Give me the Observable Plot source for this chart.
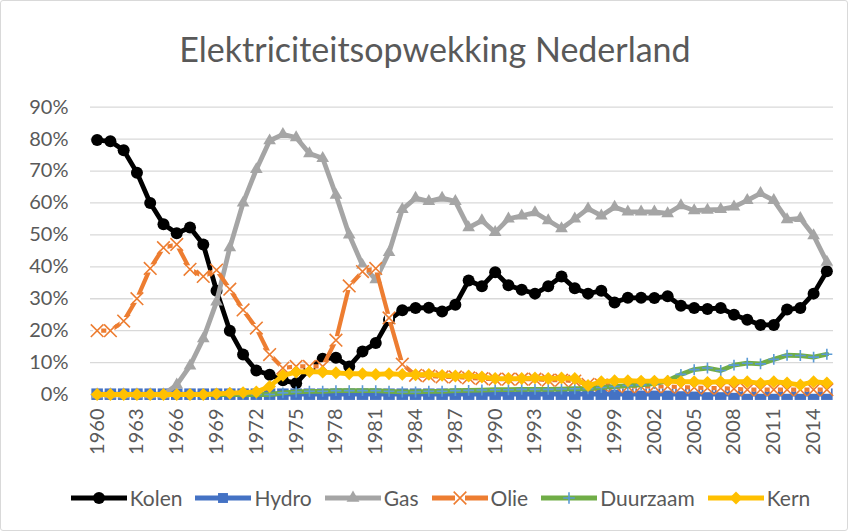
<!DOCTYPE html>
<html><head><meta charset="utf-8">
<script src="https://cdn.jsdelivr.net/npm/d3@7"></script>
<script src="https://cdn.jsdelivr.net/npm/@observablehq/plot@0.6"></script>
<style>
body{margin:0;background:#fff;}
#wrap{position:relative;width:849px;height:532px;overflow:hidden;font-family:Lato,"Open Sans",sans-serif;background:#fff;}
#frame{position:absolute;left:0;top:0;width:846px;height:529px;border:1px solid #d9d9d9;border-radius:3px;pointer-events:none;}
#title{position:absolute;left:0;width:870px;top:29px;text-align:center;font-size:34px;line-height:40px;color:#595959;}
#chart{position:absolute;left:0;top:0;}
#legend{position:absolute;left:0;top:485px;width:849px;padding-left:32px;box-sizing:border-box;display:flex;justify-content:center;align-items:center;gap:13px;font-size:21px;color:#595959;}
.item{display:flex;align-items:center;gap:3px;}
</style></head>
<body><div id="wrap"><div id="title">Elektriciteitsopwekking Nederland</div><div id="chart"></div><div id="legend"></div><div id="frame"></div></div>
<script>
const years = [1960,1961,1962,1963,1964,1965,1966,1967,1968,1969,1970,1971,1972,1973,1974,1975,1976,1977,1978,1979,1980,1981,1982,1983,1984,1985,1986,1987,1988,1989,1990,1991,1992,1993,1994,1995,1996,1997,1998,1999,2000,2001,2002,2003,2004,2005,2006,2007,2008,2009,2010,2011,2012,2013,2014,2015];
const tickYears = [1960,1963,1966,1969,1972,1975,1978,1981,1984,1987,1990,1993,1996,1999,2002,2005,2008,2011,2014];
const yTicks = [0,0.1,0.2,0.3,0.4,0.5,0.6,0.7,0.8,0.9];

// values in percent
const kolen = [79.7,79.3,76.5,69.5,60,53.3,50.5,52.3,47,32.5,20,12.5,7.5,6.2,4.5,3.5,8,11.2,11.5,8.8,13.5,16.1,23.4,26.4,27.1,27.2,26,28.1,35.7,33.9,38.3,34.2,32.8,31.6,33.9,37,33.3,31.6,32.5,28.8,30.3,30.3,30.2,30.8,27.8,27.1,26.8,27.1,25,23.4,21.8,21.8,26.6,27.1,31.6,38.6];
const hydro = [0.1,0.1,0.1,0.1,0.1,0.1,0.1,0.1,0.1,0.1,0.1,0.1,0.1,0.1,0.1,0.1,0.1,0.1,0.1,0.1,0.1,0.1,0.1,0.1,0.1,0.1,0.1,0.1,0.1,0.1,0.1,0.1,0.1,0.1,0.1,0.1,0.1,0.1,0.1,0.1,0.1,0.1,0.1,0.1,0.1,0.1,0.1,0.1,0.1,0.1,0.1,0.1,0.1,0.1,0.1,0.1];
const gas = [0,0,0,0,0,0,3,9,17.5,29,46,60,70.5,79.5,81.5,80.5,75.5,74,62.5,50,40.5,36,44.5,58,61.5,60.5,61.5,60.5,52.3,54.5,50.8,55,56,57,54.5,52,55,58.2,56,58.7,57.2,57.2,57.2,56.7,59.2,57.6,57.8,58,58.8,60.8,63,60.8,54.8,55.2,49.8,41.5];
const olie = [20,20,23,30,39.5,46,47,39.2,37,39,33,26.5,20.8,12.5,8.3,8.8,8.8,8.8,17,34,38.5,39.5,24,9.5,6,5.8,5.5,5.5,5.2,5,4.8,4.8,4.8,4.8,4.5,4.5,4.2,3.2,3,2.8,2.5,2.5,2.5,2.5,2.3,2.2,2,2,1.8,1.5,1.5,1.5,1.5,1.5,1.5,1.5];
const duurzaam = [0,0,0,0,0,0,0,0,0,0,0,0,0,0,0.5,0.8,1,1,1.2,1.2,1.2,1.2,1,0.8,0.8,1,1,1.2,1.3,1.4,1.5,1.5,1.6,1.6,1.6,1.7,1.8,1.8,2.2,2.5,2.8,3,3.4,4.3,6.3,7.8,8.3,7.5,9.2,9.8,9.6,11,12.3,12.2,11.7,12.6];
const kern = [0,0,0,0,0,0,0,0,0,0.2,0.4,0.6,0.8,2.5,6,7,7.2,7,6.8,6.5,6.5,6.3,6.5,6.3,6.2,6.3,6,5.8,5.8,5.5,5,5,5,5.2,5,5.2,5,2.8,4,4.3,4.3,4.2,4.2,4.2,4,4,3.8,4,4,4,3.5,4,3.6,3,4,3.6];

const seriesNames = ["Kolen","Hydro","Gas","Olie","Duurzaam","Kern"];
const seriesValues = [kolen,hydro,gas,olie,duurzaam,kern];
const colors = {Kolen:"#000000",Hydro:"#4472c4",Gas:"#a5a5a5",Olie:"#ed7d31",Duurzaam:"#70ad47",Kern:"#ffc000"};

const tables = {};
seriesNames.forEach((name,k)=>{
  tables[name] = years.map((yr,i)=>({year:yr, value:seriesValues[k][i]/100, series:name}));
});

const lw = 4.8;
const marks = [
  Plot.ruleY(yTicks, {stroke:"#d9d9d9", strokeWidth:1.3}),
  Plot.axisY({ticks:yTicks, tickFormat:d3.format(".0%"), tickSize:0, tickPadding:22, fontSize:20, label:null}),
  Plot.axisX({ticks:tickYears, tickFormat:d=>String(d), tickRotate:-90, tickSize:0, tickPadding:14, fontSize:20, label:null}),
  Plot.line(tables.Kolen,{x:"year",y:"value",stroke:colors.Kolen,strokeWidth:lw}),
  Plot.dot(tables.Kolen,{x:"year",y:"value",symbol:"circle",r:6,fill:colors.Kolen}),
  Plot.line(tables.Hydro,{x:"year",y:"value",stroke:colors.Hydro,strokeWidth:lw}),
  Plot.dot(tables.Hydro,{x:"year",y:"value",symbol:"square",r:6.5,fill:colors.Hydro}),
  Plot.line(tables.Gas,{x:"year",y:"value",stroke:colors.Gas,strokeWidth:lw}),
  Plot.dot(tables.Gas,{x:"year",y:"value",symbol:"triangle",r:4.7,fill:colors.Gas}),
  Plot.line(tables.Olie,{x:"year",y:"value",stroke:colors.Olie,strokeWidth:4.2}),
  Plot.dot(tables.Olie,{x:"year",y:"value",symbol:"square",r:4.6,fill:"white"}),
  Plot.dot(tables.Olie,{x:"year",y:"value",symbol:"times",r:5.8,stroke:colors.Olie,strokeWidth:1.6,fill:"none"}),
  Plot.line(tables.Duurzaam,{x:"year",y:"value",stroke:colors.Duurzaam,strokeWidth:lw}),
  Plot.dot(tables.Duurzaam,{x:"year",y:"value",symbol:"plus",r:3.6,stroke:"#5b9bd5",strokeWidth:1.6,fill:"none"}),
  Plot.line(tables.Kern,{x:"year",y:"value",stroke:colors.Kern,strokeWidth:lw}),
  Plot.dot(tables.Kern,{x:"year",y:"value",symbol:"diamond2",r:5.8,fill:colors.Kern})
];

const chart = Plot.plot({
  width:849, height:480,
  marginTop:106.7, marginBottom:86, marginLeft:90, marginRight:16,
  x:{type:"linear", domain:[1959.5,2015.5], label:null},
  y:{domain:[0,0.9], label:null},
  style:{fontFamily:'Lato,"Open Sans",sans-serif', fontSize:"20px", color:"#595959", background:"transparent", overflow:"visible"},
  marks
});
document.getElementById("chart").appendChild(chart);

const legendSymbols = {Kolen:[d3.symbolCircle,6,"fill"],Hydro:[d3.symbolSquare,5.6,"fill"],Gas:[d3.symbolTriangle,4.8,"fill"],Olie:[d3.symbolTimes,5.8,"stroke"],Duurzaam:[d3.symbolPlus,3.8,"stroke"],Kern:[d3.symbolDiamond2,5.8,"fill"]};
const legend = d3.select("#legend");
seriesNames.forEach(name=>{
  const it = legend.append("div").attr("class","item");
  const svg = it.append("svg").attr("width",56).attr("height",18);
  svg.append("line").attr("x1",0).attr("x2",56).attr("y1",9).attr("y2",9).attr("stroke",colors[name]).attr("stroke-width",5);
  const [sym,r,mode] = legendSymbols[name];
  const path = d3.symbol(sym, Math.PI*r*r)();
  if (name==="Olie") svg.append("rect").attr("x",23).attr("y",4).attr("width",10).attr("height",10).attr("fill","white");
  const p = svg.append("path").attr("d",path).attr("transform","translate(28,9)");
  if (mode==="fill") p.attr("fill",colors[name]);
  else p.attr("fill","none").attr("stroke", name==="Duurzaam" ? "#5b9bd5" : colors[name]).attr("stroke-width",1.6);
  it.append("span").text(name);
});
</script></body></html>
